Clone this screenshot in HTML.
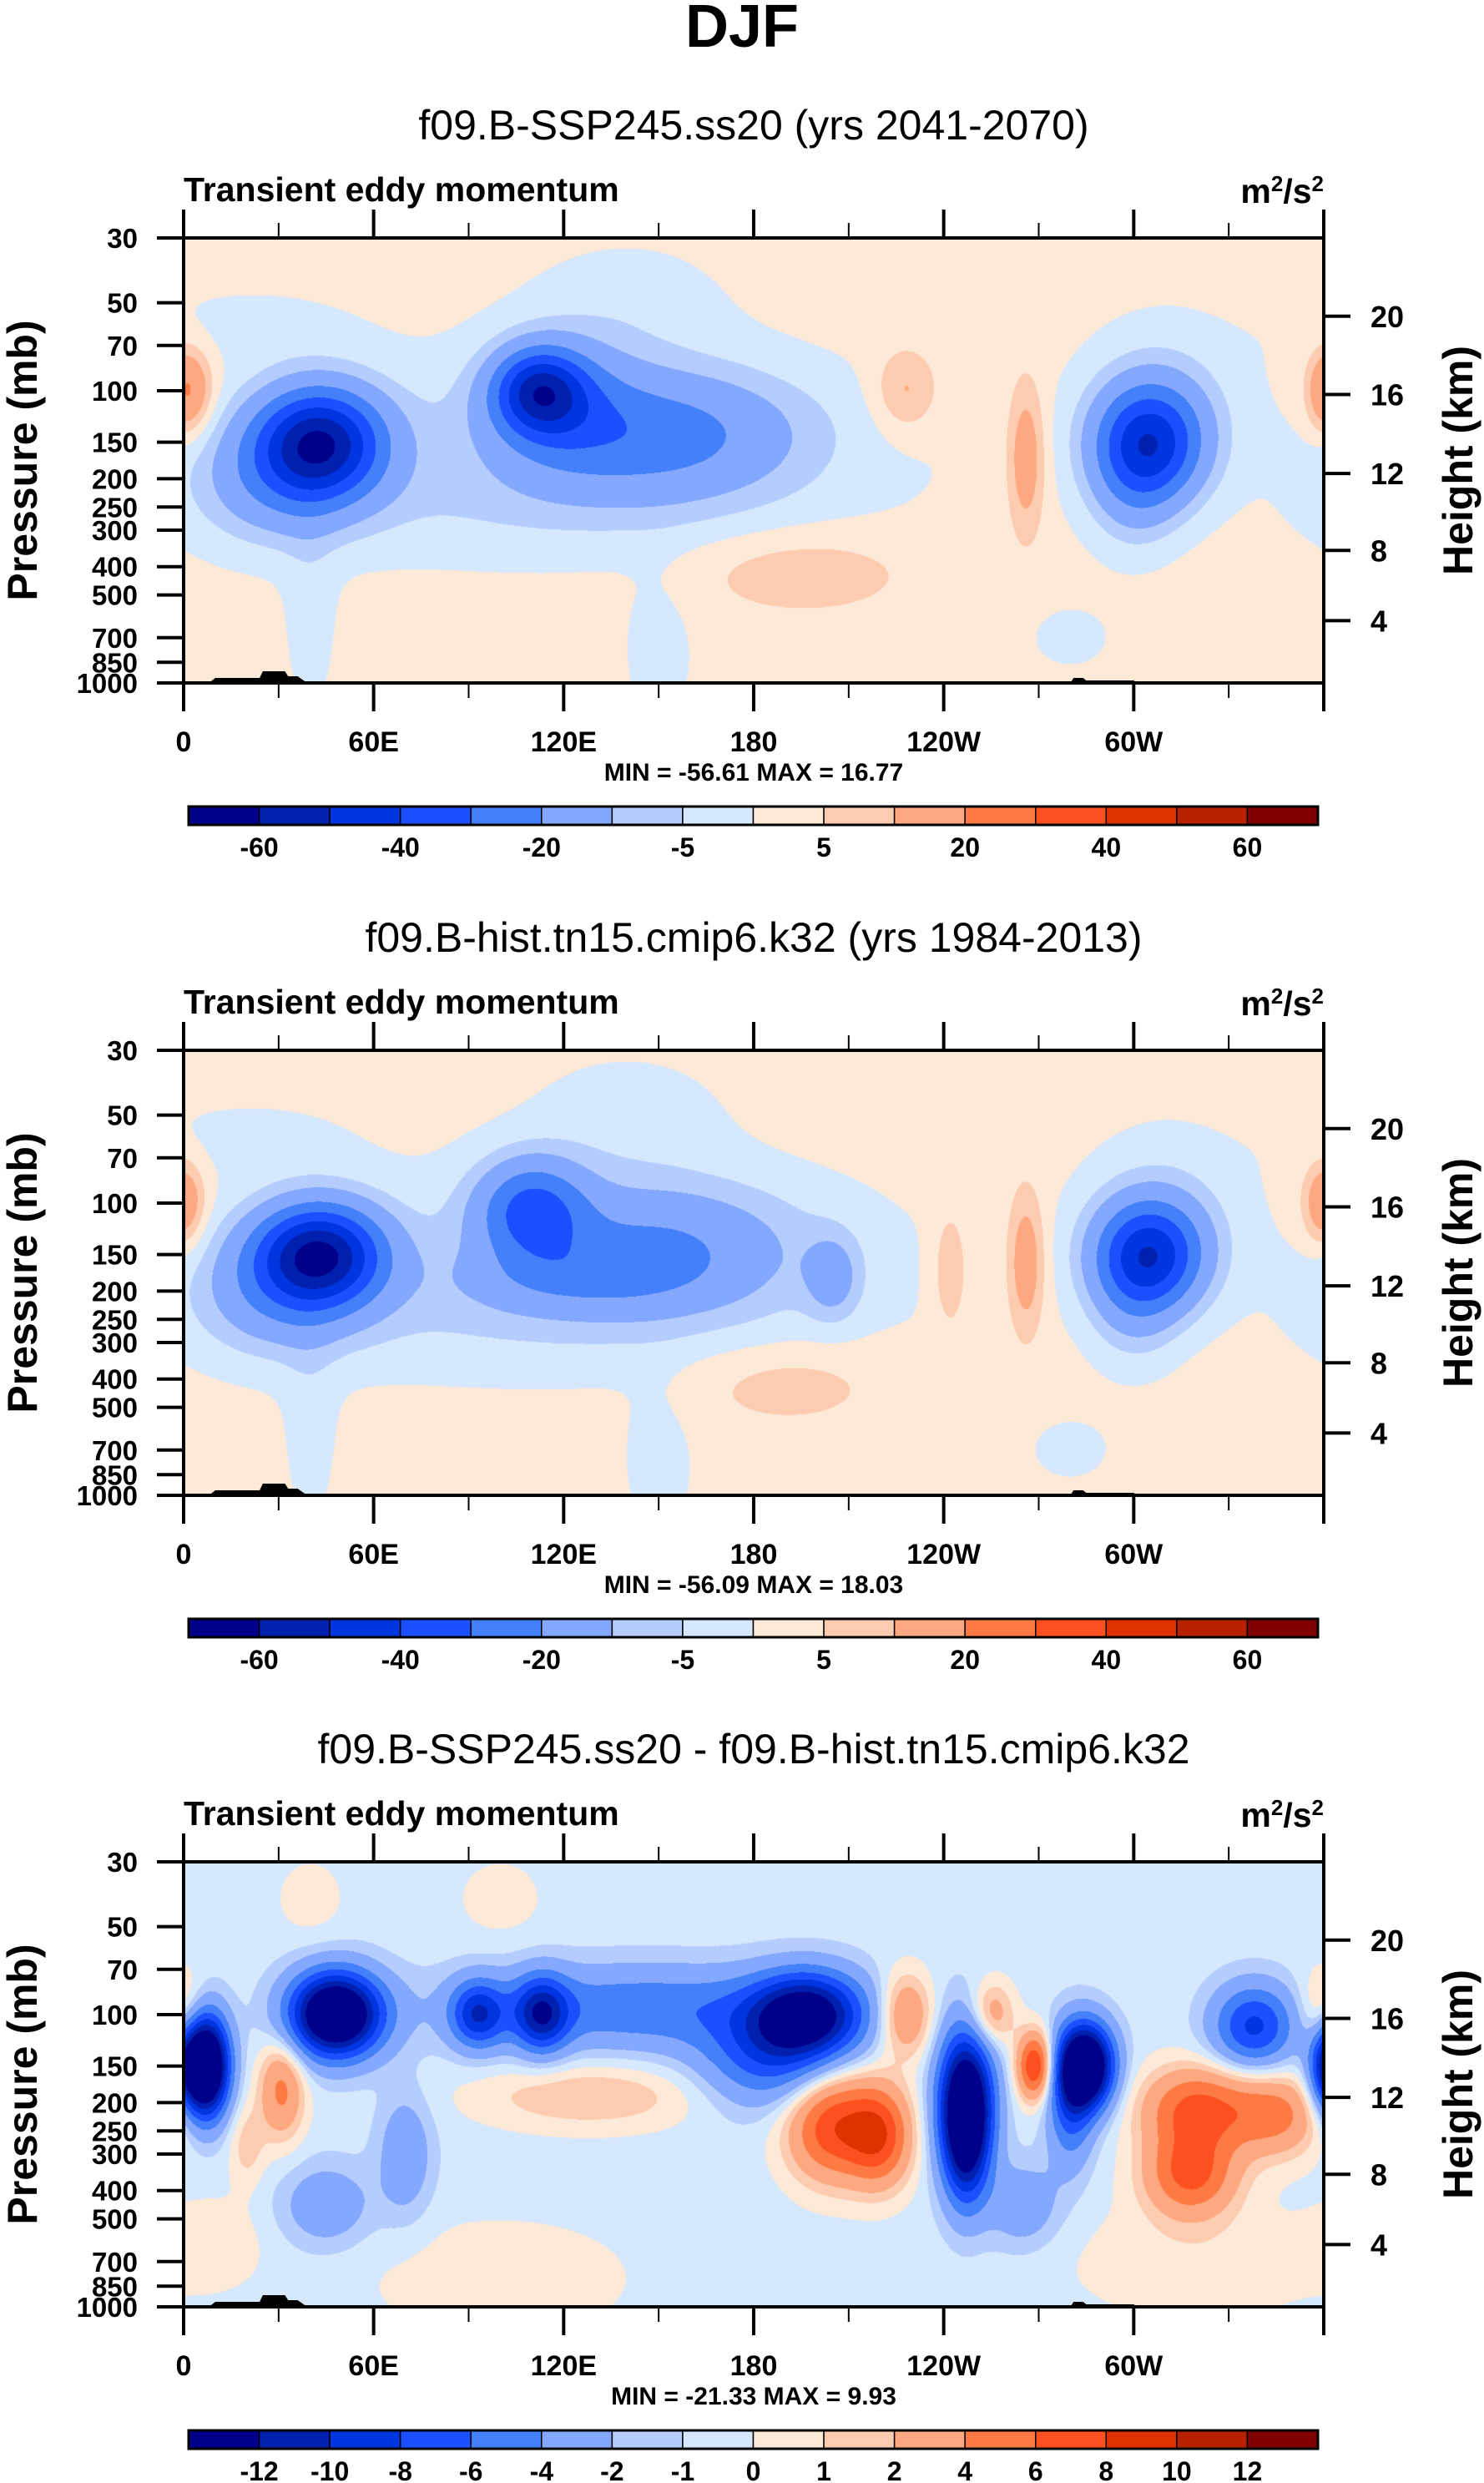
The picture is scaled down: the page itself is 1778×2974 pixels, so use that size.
<!DOCTYPE html>
<html><head><meta charset="utf-8">
<style>
html,body{margin:0;padding:0;background:#fff;}
body{width:1778px;height:2974px;position:relative;overflow:hidden;font-family:"Liberation Sans Narrow","Liberation Sans",sans-serif;}
</style></head>
<body>
<svg id="svg" width="1778" height="2974" style="position:absolute;left:0;top:0"></svg>
<script>
// ---- data ----
const lonTicks = [0,60,120,180,240,300];
const lonLabels = ["0","60E","120E","180","120W","60W"];
const presTicks = [30,50,70,100,150,200,250,300,400,500,700,850,1000];
const heightTicks = [4,8,12,16,20];
const heightPres = [612,352,192,103,55.6];
const levelsA = [-60,-50,-40,-30,-20,-10,-5,0,5,10,20,30,40,50,60];
const levelsB = [-12,-10,-8,-6,-4,-2,-1,0,1,2,4,6,8,10,12];
const labelsA = ["","-60","","-40","","-20","","-5","","5","","20","","40","","60"];
const labelsB = ["","-12","-10","-8","-6","-4","-2","-1","0","1","2","4","6","8","10","12"];
const colors = ["#00008a","#0020b0","#0035e0","#1a50ff","#4480fa","#85a8ff","#b5cdfe","#d5e8fe","#fde9d8","#fdccb0","#fda880","#fd7a45","#fd5020","#e03200","#b82200","#800000"];
// feature arrays per panel: lon, pressure, amplitude, lon-width, logp-width
const p1Lon = [120,140,310,20,43,30,112,150,120,305,300,3,228,266,195,40,150,280,360,100];
const p1P   = [160,50,100,60,150,200,100,140,110,150,220,100,100,170,420,600,800,700,100,250];
const p1Amp = [-6,-4,-5,-3,-54,-15,-40,-22,-15,-45,-10,12,10,14,7,-4,-4,-3,10,-3];
const p1Wl  = [75,22,18,25,14,18,10,30,15,12,10,5,7,4,24,6,8,12,4,60];
const p1Wp  = [0.25,0.15,0.2,0.1,0.13,0.15,0.1,0.15,0.15,0.14,0.15,0.1,0.1,0.18,0.1,0.25,0.2,0.1,0.1,0.12];
const p2Lon = [120,140,310,20,43,30,110,150,205,305,300,0,242,266,190,40,150,280,360,125,100];
const p2P   = [170,50,100,60,150,200,105,140,180,150,220,100,170,160,420,600,800,700,100,180,250];
const p2Amp = [-6,-4,-5,-3,-56,-15,-30,-18,-12,-45,-10,9,8,14,6,-4,-4,-3,8,-10,-3];
const p2Wl  = [75,22,18,25,14,18,12,30,6,12,10,5,4,4,22,6,8,12,4,25,60];
const p2Wp  = [0.25,0.15,0.2,0.1,0.12,0.15,0.12,0.15,0.1,0.13,0.15,0.1,0.15,0.17,0.1,0.25,0.2,0.1,0.1,0.08,0.12];
const p3Lon = [7,48,93,113,145,197,185,247,285,280,338,360,0,31,20,128,205,220,228,255,269,320,318,345,45,70,265,100,320,10,40,100,247];
const p3P   = [150,100,100,100,95,100,140,200,150,200,110,150,100,180,280,190,240,260,100,100,150,210,350,220,450,300,450,800,700,600,40,40,300];
const p3Amp = [-20,-18,-8,-9,-5,-12,-6,-16,-18,-6,-8,-6,3,5,2,2.5,8,7,5,4,9,7,7,5,-3,-3,-3,1.2,1.2,1.2,1,1,-6];
const p3Wl  = [5,10,6,6,40,12,15,6,6,5,9,4,5,5,4,25,10,7,6,5,4,12,10,10,10,6,8,30,30,10,8,10,5];
const p3Wp  = [0.12,0.1,0.08,0.09,0.1,0.1,0.12,0.17,0.1,0.15,0.1,0.1,0.1,0.12,0.1,0.08,0.13,0.12,0.1,0.08,0.08,0.1,0.1,0.1,0.1,0.15,0.1,0.15,0.15,0.1,0.1,0.1,0.15];

const panels = [
 {top:285, title:"f09.B-SSP245.ss20 (yrs 2041-2070)", minmax:"MIN = -56.61  MAX =  16.77", base:2, lon:p1Lon,p:p1P,amp:p1Amp,wl:p1Wl,wp:p1Wp, levels:levelsA, labels:labelsA},
 {top:1258, title:"f09.B-hist.tn15.cmip6.k32 (yrs 1984-2013)", minmax:"MIN = -56.09  MAX =  18.03", base:2, lon:p2Lon,p:p2P,amp:p2Amp,wl:p2Wl,wp:p2Wp, levels:levelsA, labels:labelsA},
 {top:2230, title:"f09.B-SSP245.ss20 - f09.B-hist.tn15.cmip6.k32", minmax:"MIN = -21.33  MAX =   9.93", base:-0.5, lon:p3Lon,p:p3P,amp:p3Amp,wl:p3Wl,wp:p3Wp, levels:levelsB, labels:labelsB}
];
// ---- layout ----
const L=220, R=1586, W=R-L, H=533;
const NS="http://www.w3.org/2000/svg";
const svg=document.getElementById('svg');
function mk(tag,attrs,parent){const e=document.createElementNS(NS,tag);for(const k in attrs)e.setAttribute(k,attrs[k]);(parent||svg).appendChild(e);return e;}
function xOf(lon){return L+lon/360*W;}
function yOf(top,p){return top+Math.log(p/30)/Math.log(1000/30)*H;}
function field(pn,lon,p){
  let v=pn.base;
  for(let i=0;i<pn.lon.length;i++){
    let dl=lon-pn.lon[i]; if(dl>180)dl-=360; if(dl<-180)dl+=360;
    dl/=pn.wl[i];
    const dp=Math.log10(p/pn.p[i])/pn.wp[i];
    v+=pn.amp[i]*Math.exp(-0.5*(dl*dl+dp*dp));
  }
  return v;
}
function colorIdx(levels,v){let k=0;while(k<levels.length&&v>=levels[k])k++;return k;}

const t=mk('text',{x:889,y:56,'text-anchor':'middle','font-size':72,'font-weight':'bold','font-family':'Liberation Sans, sans-serif'});
t.textContent="DJF";



panels.forEach((pn,pi)=>{
  const T=pn.top;
  const g=mk('g',{});
  
  
  const st=mk('text',{x:903,y:T-118,'text-anchor':'middle','font-size':50,'font-family':'Liberation Sans, sans-serif'},g);
  st.textContent=pn.title;
  
  
  const lt=mk('text',{x:220,y:T-44,'font-size':41,'font-weight':'bold','font-family':'Liberation Sans, sans-serif'},g);
  lt.textContent="Transient eddy momentum";
  
  
  const ut=mk('text',{x:1586,y:T-42,'text-anchor':'end','font-size':41,'font-weight':'bold','font-family':'Liberation Sans, sans-serif'},g);
  ut.innerHTML='m<tspan dy="-14" font-size="26">2</tspan><tspan dy="14">/s</tspan><tspan dy="-14" font-size="26">2</tspan>';
  
  
  const cv=document.createElement('canvas');cv.width=W;cv.height=H;
  const ctx=cv.getContext('2d');const img=ctx.createImageData(W,H);
  const rgb=colors.map(c=>[parseInt(c.substr(1,2),16),parseInt(c.substr(3,2),16),parseInt(c.substr(5,2),16)]);
  const lonArr=new Float32Array(W);for(let x=0;x<W;x++)lonArr[x]=(x+0.5)/W*360;
  for(let y=0;y<H;y++){
    const p=30*Math.pow(1000/30,(y+0.5)/H);
    for(let x=0;x<W;x++){
      const v=field(pn,lonArr[x],p);
      const c=rgb[colorIdx(pn.levels,v)];
      const o=(y*W+x)*4;img.data[o]=c[0];img.data[o+1]=c[1];img.data[o+2]=c[2];img.data[o+3]=255;
    }
  }
  ctx.putImageData(img,0,0);
  cv.style.cssText='position:absolute;left:'+L+'px;top:'+T+'px;';
  
  
  document.body.insertBefore(cv,svg);
  const topo=mk('path',{d:`M${xOf(8)},${T+H} L${xOf(10)},${T+H-6} L${xOf(24)},${T+H-6} L${xOf(25)},${T+H-14} L${xOf(32)},${T+H-14} L${xOf(33)},${T+H-8} L${xOf(36)},${T+H-8} L${xOf(39)},${T+H} Z M${xOf(280)},${T+H} L${xOf(281)},${T+H-6} L${xOf(284)},${T+H-6} L${xOf(285)},${T+H-3} L${xOf(300)},${T+H-3} L${xOf(301)},${T+H} Z`,fill:'#000'},g);
  
  
  const fr=mk('rect',{x:L,y:T,width:W,height:H,fill:'none',stroke:'#000','stroke-width':4},g);
  
  
  for(let lon=0;lon<=360;lon+=30){
    const major=lon%60===0, len=major?34:18, x=xOf(lon);
    mk('line',{x1:x,y1:T,x2:x,y2:T-len,stroke:'#000','stroke-width':major?4:2},g);
    mk('line',{x1:x,y1:T+H,x2:x,y2:T+H+len,stroke:'#000','stroke-width':major?4:2},g);
  }
  lonTicks.forEach((lon,i)=>{
    const tx=mk('text',{x:xOf(lon),y:T+H+82,'text-anchor':'middle','font-size':34,'font-weight':'bold'},g);
    tx.textContent=lonLabels[i];
    
    
  });
  presTicks.forEach(p=>{
    const y=yOf(T,p);
    mk('line',{x1:L,y1:y,x2:L-32,y2:y,stroke:'#000','stroke-width':4},g);
    const tx=mk('text',{x:165,y:y+12,'text-anchor':'end','font-size':33,'font-weight':'bold'},g);
    tx.textContent=p;
    
    
  });
  heightTicks.forEach((h,i)=>{
    const y=yOf(T,heightPres[i]);
    mk('line',{x1:R,y1:y,x2:R+32,y2:y,stroke:'#000','stroke-width':4},g);
    const tx=mk('text',{x:1642,y:y+13,'font-size':36,'font-weight':'bold'},g);
    tx.textContent=h;
    
    
  });
  const yl=mk('text',{x:0,y:0,transform:`translate(44,${T+H/2}) rotate(-90)`,'text-anchor':'middle','font-size':50,'font-weight':'bold','font-family':'Liberation Sans, sans-serif'},g);
  yl.textContent="Pressure (mb)";
  
  
  const yr=mk('text',{x:0,y:0,transform:`translate(1764,${T+H/2}) rotate(-90)`,'text-anchor':'middle','font-size':50,'font-weight':'bold','font-family':'Liberation Sans, sans-serif'},g);
  yr.textContent="Height (km)";
  
  
  const mm=mk('text',{x:903,y:T+H+117,'text-anchor':'middle','font-size':30,'font-weight':'bold'},g);
  mm.textContent=pn.minmax;
  
  
  const cb=mk('g',{},g);
  
  
  const cbx=226, cbw=1353, cby=T+681, cbh=22, bw=cbw/16;
  colors.forEach((c,i)=>{
    const r=mk('rect',{x:cbx+i*bw,y:cby,width:bw,height:cbh,fill:c,stroke:'#000','stroke-width':1.5},cb);
    
    
  });
  mk('rect',{x:cbx,y:cby,width:cbw,height:cbh,fill:'none',stroke:'#000','stroke-width':3},cb);
  pn.labels.forEach((lb,i)=>{
    if(!lb)return;
    const tx=mk('text',{x:cbx+i*bw,y:cby+60,'text-anchor':'middle','font-size':32,'font-weight':'bold'},cb);
    tx.textContent=lb;
    
    
  });
});
</script>
</body></html>
